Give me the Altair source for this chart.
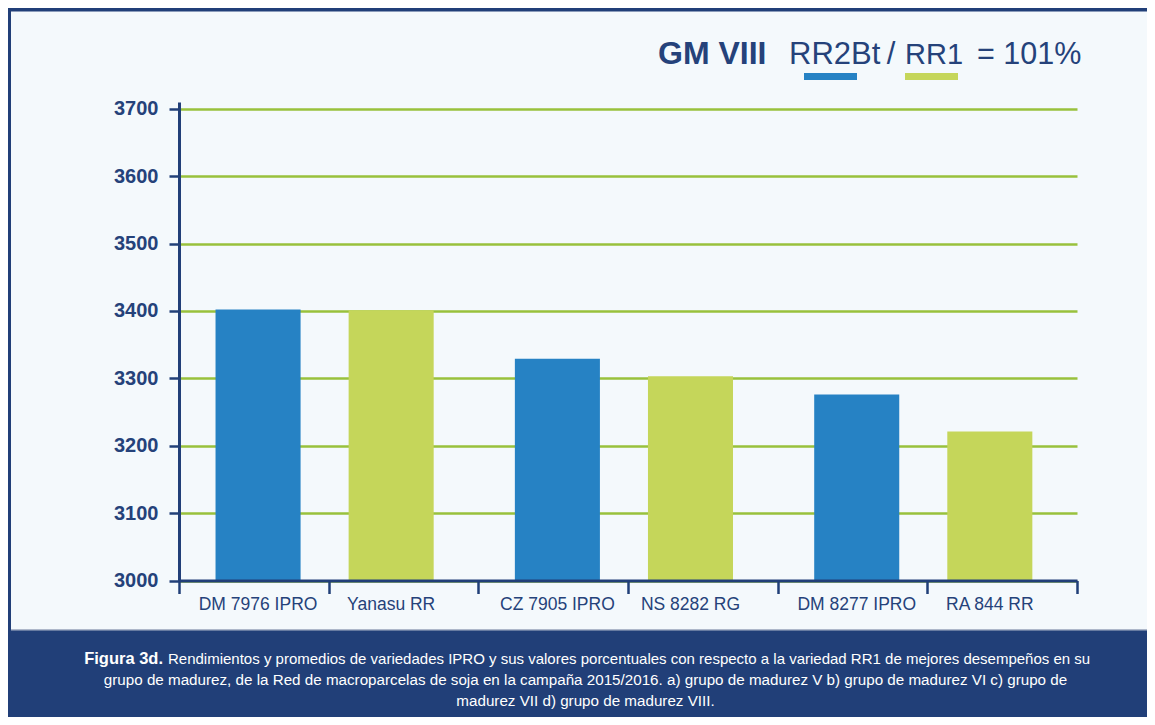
import altair as alt
import pandas as pd

# ---- data ----
variedades = ["DM 7976 IPRO", "Yanasu RR", "CZ 7905 IPRO", "NS 8282 RG", "DM 8277 IPRO", "RA 844 RR"]
rendimientos = [3402, 3401, 3329, 3303, 3276, 3221]
tipos = ["RR2Bt", "RR1", "RR2Bt", "RR1", "RR2Bt", "RR1"]
grupos = ["A", "A", "B", "B", "C", "C"]
y_ticks = [3000, 3100, 3200, 3300, 3400, 3500, 3600, 3700]
tipo_orden = ["RR2Bt", "RR1"]

caption_bold = "Figura 3d."
caption_l1 = ("Rendimientos y promedios de variedades IPRO y sus valores porcentuales con respecto "
              "a la variedad RR1 de mejores desempeños en su")
caption_l2 = ("grupo de madurez, de la Red de macroparcelas de soja en la campaña 2015/2016.  "
              "a) grupo de madurez V b) grupo de madurez VI c) grupo de")
caption_l3 = "madurez VII d) grupo de madurez VIII."

df = pd.DataFrame({"variedad": variedades, "rend": rendimientos, "tipo": tipos, "grupo": grupos})
one = pd.DataFrame({"k": [0]})

# ---- style ----
NAVY = "#213f78"
TXT = "#25427a"
BLUE = "#2682c4"
GREEN = "#c5d65a"
GRID = "#99c13c"
BG = "#f4f9fc"
SANS = "Liberation Sans, Arial, sans-serif"

W, H = 898, 478.5
PAD_L, PAD_T = 171, 94

y_enc = alt.Y(
    "rend:Q",
    scale=alt.Scale(domain=[3000, 3710], nice=False, zero=False),
    axis=alt.Axis(
        values=y_ticks, format="d", title=None, grid=True, gridColor=GRID, gridWidth=2.7,
        domainColor=NAVY, domainWidth=3, tickColor=NAVY, tickWidth=2.5, tickSize=10,
        labelFont=SANS, labelFontWeight="bold", labelFontSize=20, labelColor=TXT,
        labelPadding=11,
    ),
)

def grp_x():
    return alt.X("grupo:N", sort=None,
                 scale=alt.Scale(type="band", paddingInner=0, paddingOuter=0), axis=None)

def off_x():
    return alt.XOffset("tipo:N", sort=tipo_orden,
                       scale=alt.Scale(type="band", domain=tipo_orden,
                                       paddingInner=0.361, paddingOuter=0.305, align=0.45))

bars = alt.Chart(df).mark_bar(clip=True).encode(
    x=grp_x(),
    xOffset=off_x(),
    y=y_enc,
    color=alt.Color("tipo:N", scale=alt.Scale(domain=tipo_orden, range=[BLUE, GREEN]), legend=None),
)

labels = alt.Chart(df).mark_text(
    font=SANS, fontSize=17.5, color=TXT, baseline="alphabetic", align="center"
).encode(
    x=grp_x(),
    xOffset=off_x(),
    y=alt.value(508),
    text="variedad:N",
)

axis_layer = alt.Chart(df).mark_bar(opacity=0, clip=True).encode(
    x=alt.X(
        "variedad:N", sort=variedades, scale=alt.Scale(paddingInner=0, paddingOuter=0),
        axis=alt.Axis(
            labels=False, title=None, tickBand="extent", tickColor=NAVY, tickWidth=2.5,
            tickSize=13, domainColor=NAVY, domainWidth=3, orient="bottom", zindex=1,
        ),
    ),
    y=y_enc,
)

def rect(x, x2, y, y2, color):
    return alt.Chart(one).mark_rect(color=color).encode(
        x=alt.value(x), x2=alt.value(x2), y=alt.value(y), y2=alt.value(y2)
    )

def text(s, x, y, size, color, weight="normal", align="left"):
    return alt.Chart(one).mark_text(
        text=s, font=SANS, fontSize=size, color=color, fontWeight=weight,
        align=align, baseline="alphabetic",
    ).encode(x=alt.value(x), y=alt.value(y))

# frame (page coords minus plot origin 179,102)
top_border = rect(-171, 976, -94, -90.5, NAVY)
left_border = rect(-171, -168, -94, 528, NAVY)
caption_box = rect(-171, 976, 528, 623, NAVY)
caption_line = rect(-168, 976, 527, 528.5, "#aeb8ca")

# header
h1 = text("GM VIII", 479, -38, 32, TXT, weight="bold")
h2 = text("RR2Bt", 610, -38, 31, TXT)
h3 = text("/", 712, -38, 31, TXT, align="center")
h4 = text("RR1", 726, -38, 29, TXT)
h5 = text("= 101%", 798, -38, 30.5, TXT)
sw1 = rect(625, 678, -29, -22, BLUE)
sw2 = rect(726, 779, -29, -22, GREEN)

# caption
c0 = text(caption_bold, -16, 562, 16.5, "white", weight="bold", align="right")
c1 = text(caption_l1, -11, 562, 15.0, "white")
c2 = text(caption_l2, 406.5, 583, 15.2, "white", align="center")
c3 = text(caption_l3, 406.5, 604, 15.2, "white", align="center")

chart = alt.layer(
    top_border, left_border, caption_box, caption_line,
    axis_layer, bars, labels,
    h1, h2, h3, h4, h5, sw1, sw2,
    c0, c1, c2, c3,
).resolve_scale(
    x="independent", xOffset="independent"
).properties(
    width=W, height=H,
    autosize=alt.AutoSizeParams(type="none"),
    padding={"left": PAD_L, "top": PAD_T, "right": 70, "bottom": 136},
    background=BG,
).configure_view(stroke=None)

chart.save("out.html", embed_options={"renderer": "svg", "actions": False})
